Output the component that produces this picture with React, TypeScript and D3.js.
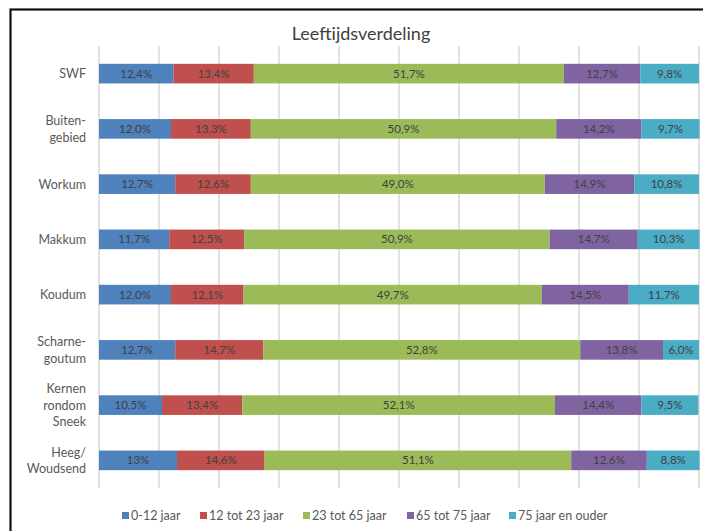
import React from "react";
import * as d3 from "d3";

const categories: string[][] = [
  ["SWF"],
  ["Buiten-", "gebied"],
  ["Workum"],
  ["Makkum"],
  ["Koudum"],
  ["Scharne-", "goutum"],
  ["Kernen", "rondom", "Sneek"],
  ["Heeg/", "Woudsend"],
];

const seriesNames = ["0-12 jaar", "12 tot 23 jaar", "23 tot 65 jaar", "65 tot 75 jaar", "75 jaar en ouder"];
const seriesColors = ["#4F81BD", "#C0504D", "#9BBB59", "#8064A2", "#4BACC6"];

// values as shown in the data labels (Dutch decimal comma)
const age0to12 = ["12,4", "12,0", "12,7", "11,7", "12,0", "12,7", "10,5", "13"];
const age12to23 = ["13,4", "13,3", "12,6", "12,5", "12,1", "14,7", "13,4", "14,6"];
const age23to65 = ["51,7", "50,9", "49,0", "50,9", "49,7", "52,8", "52,1", "51,1"];
const age65to75 = ["12,7", "14,2", "14,9", "14,7", "14,5", "13,8", "14,4", "12,6"];
const age75plus = ["9,8", "9,7", "10,8", "10,3", "11,7", "6,0", "9,5", "8,8"];

const gridTicks = [0, 10, 20, 30, 40, 50, 60, 70, 80, 90, 100];
const title = "Leeftijdsverdeling";

const toNum = (s: string) => parseFloat(s.replace(",", "."));

const W = 703;
const H = 531;
const FONT = "Lato, 'Open Sans', sans-serif";

export default function App() {
  const series = [age0to12, age12to23, age23to65, age65to75, age75plus];
  const keys = categories.map((_, i) => String(i));
  const x = d3.scaleLinear().domain([0, 100]).range([99, 699]);
  const y = d3.scaleBand<string>().domain(keys).range([46, 488]).paddingInner(0.645).paddingOuter(0.3225);

  const rows = categories.map((_, i) => {
    const r: any = { key: String(i) };
    series.forEach((s, j) => (r["s" + j] = toNum(s[i])));
    return r;
  });
  const stack = d3.stack<any>().keys(series.map((_, j) => "s" + j))(rows);

  const legendX = [122, 200, 303, 407, 509];

  return (
    <svg width={W} height={H} style={{ position: "absolute", left: 0, top: 0, background: "#fff" }} fontFamily={FONT}>
      <rect x={0} y={0} width={W} height={H} fill="#fff" />
      <rect x={10.5} y={9.5} width={W + 20} height={H + 20} fill="none" stroke="#111" strokeWidth={2.2} />
      <text x={361} y={40} textAnchor="middle" fontSize={18} fill="#404040">{title}</text>
      {gridTicks.map((t) => (
        <line key={t} x1={x(t)} x2={x(t)} y1={46} y2={488} stroke="#d9d9d9" strokeWidth={1.5} />
      ))}
      {stack.map((layer, j) => (
        <g key={j}>
          {layer.map((d, i) => {
            const x0 = x(d[0]);
            const x1 = x(d[1]);
            const yy = y(String(i))!;
            return (
              <g key={i}>
                <rect x={x0} y={yy} width={x1 - x0} height={y.bandwidth()} fill={seriesColors[j]} />
                <text x={(x0 + x1) / 2} y={yy + y.bandwidth() / 2 + 4} textAnchor="middle" fontSize={11.5} fill="#404040">
                  {series[j][i] + "%"}
                </text>
              </g>
            );
          })}
        </g>
      ))}
      {categories.map((lines, i) => {
        const cy = y(String(i))! + y.bandwidth() / 2;
        const lh = 16.3;
        const start = cy - ((lines.length - 1) * lh) / 2;
        return (
          <text key={i} textAnchor="end" fontSize={12.5} fill="#595959">
            {lines.map((l, k) => (
              <tspan key={k} x={86} y={start + k * lh + 4.5}>{l}</tspan>
            ))}
          </text>
        );
      })}
      {seriesNames.map((n, j) => (
        <g key={n}>
          <rect x={legendX[j]} y={512} width={7} height={7} fill={seriesColors[j]} />
          <text x={legendX[j] + 9} y={520} fontSize={12.5} fill="#595959">{n}</text>
        </g>
      ))}
    </svg>
  );
}
